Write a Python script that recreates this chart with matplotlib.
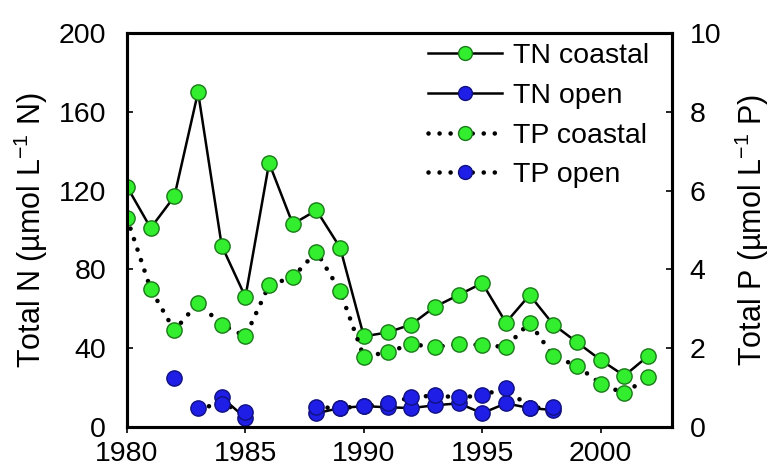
import numpy as np
import matplotlib
matplotlib.use('Agg')
import matplotlib.pyplot as plt

plt.rcParams['font.family'] = ['Liberation Sans', 'DejaVu Sans']
plt.rcParams['mathtext.fontset'] = 'custom'
plt.rcParams['mathtext.rm'] = 'Liberation Sans'
plt.rcParams['mathtext.default'] = 'regular'

nan = np.nan
years = list(range(1980, 2003))

# total nitrogen, umol/L N
tn_coastal = [122, 101, 117, 170, 92, 66, 134, 103, 110, 91, 46, 48,
              52, 61, 67, 73, 53, 67, 52, 43, 34, 26, 36]
tn_open = [nan, nan, 25, nan, 15, 4.6, nan, nan, 7, 9.6, 10.6, 10,
           9.6, 11, 12, 7, 12, 9.6, 8.6, nan, nan, nan, nan]

# total phosphorus, umol/L P
tp_coastal = [5.3, 3.5, 2.45, 3.15, 2.6, 2.3, 3.6, 3.8, 4.45, 3.45, 1.78, 1.9,
              2.1, 2.03, 2.1, 2.08, 2.03, 2.65, 1.8, 1.55, 1.1, 0.85, 1.27]
tp_open = [nan, nan, nan, 0.48, 0.58, 0.38, nan, nan, 0.5, 0.48, 0.53, 0.6,
           0.75, 0.8, 0.75, 0.8, 1.0, 0.48, 0.5, nan, nan, nan, nan]

green = '#33ee2e'
green_edge = '#1a7a1a'
blue = '#1e1ee6'
blue_edge = '#101080'
ms = 11
dots = (0, (0.01, 2.4))

fig = plt.figure(figsize=(7.82, 4.76), dpi=100)
ax = fig.add_axes([0.1624, 0.103, 0.6966, 0.8277])
ax2 = ax.twinx()

h1, = ax.plot(years, tn_coastal, '-', color='k', lw=1.8, marker='o', ms=ms,
              mfc=green, mec=green_edge, mew=1.0, label='TN coastal')
h2, = ax.plot(years, tn_open, '-', color='k', lw=1.8, marker='o', ms=ms,
              mfc=blue, mec=blue_edge, mew=1.0, label='TN open')
h3, = ax2.plot(years, tp_coastal, color='k', lw=3.3, ls=dots,
               dash_capstyle='round', marker='o', ms=ms,
               mfc=green, mec=green_edge, mew=1.0, label='TP coastal')
h4, = ax2.plot(years, tp_open, color='k', lw=3.3, ls=dots,
               dash_capstyle='round', marker='o', ms=ms,
               mfc=blue, mec=blue_edge, mew=1.0, label='TP open')

ax.set_xlim(1980, 2003)
ax.set_ylim(0, 200)
ax2.set_ylim(0, 10)
ax.set_xticks(range(1980, 2001, 5))
ax.set_yticks(range(0, 201, 40))
ax2.set_yticks(range(0, 11, 2))

fs = 20.5
ax.tick_params(axis='x', direction='out', length=4, width=1.2, labelsize=fs, pad=6)
ax.tick_params(axis='y', direction='in', length=4, width=1.2, labelsize=fs, pad=15)
ax2.tick_params(axis='y', direction='in', length=4, width=1.2, labelsize=fs, pad=13)
for a in (ax, ax2):
    for s in a.spines.values():
        s.set_linewidth(2.2)

ax.set_ylabel('Total N (µmol L$^{-1}$ N)', fontsize=22, labelpad=6)
ax2.set_ylabel('Total P (µmol L$^{-1}$ P)', fontsize=22, labelpad=8)

leg = ax2.legend(handles=[h1, h2, h3, h4], loc='upper right', frameon=False,
                 fontsize=20.5, handlelength=2.6, labelspacing=0.48,
                 handletextpad=0.4, borderaxespad=0.1,
                 bbox_to_anchor=(0.985, 1.01))
for lh in leg.legend_handles:
    lh.set_markersize(10)

fig.savefig('out.png', dpi=100)
